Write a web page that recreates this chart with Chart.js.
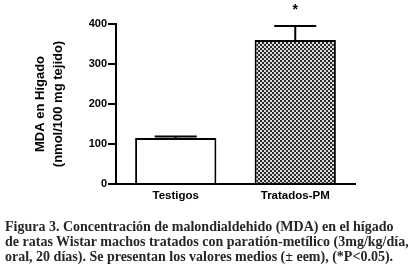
<!DOCTYPE html>
<html>
<head>
<meta charset="utf-8">
<script src="https://cdn.jsdelivr.net/npm/chart.js@4.4.0/dist/chart.umd.min.js"></script>
<style>
  html, body { margin: 0; padding: 0; background: #fff; }
  #wrap { position: relative; width: 408px; height: 270px; }
  #caption {
    position: absolute; left: 5px; top: 219px; width: 403px;
    font-family: "Liberation Serif", serif; font-weight: bold; font-size: 14px;
    line-height: 15px; color: #262626; white-space: nowrap;
  }
</style>
</head>
<body>
<div id="wrap">
  <canvas id="grafico" width="408" height="270"></canvas>
  <div id="caption">Figura 3. Concentración de malondialdehido (MDA) en el hígado<br>de ratas Wistar machos tratados con paratión-metílico (3mg/kg/día,<br>oral, 20 días). Se presentan los valores medios (± eem), (*P&lt;0.05).</div>
</div>
<script>
const grupos = ['Testigos', 'Tratados-PM'];
const medias = [115, 360];
const errores = [4, 35];
const marcas = ['', '*'];
const ticksY = [0, 100, 200, 300, 400];

// relleno cuadriculado para la barra de tratados
function cuadricula() {
  const c = document.createElement('canvas');
  c.width = 4; c.height = 4;
  const g = c.getContext('2d');
  g.fillStyle = '#dcdcdc'; g.fillRect(0, 0, 4, 4);
  g.fillStyle = '#2a2a2a';
  g.fillRect(0, 0, 2, 2); g.fillRect(2, 2, 2, 2);
  return g.createPattern(c, 'repeat');
}

const barrasError = {
  id: 'barrasError',
  afterDatasetsDraw(chart) {
    const ctx = chart.ctx;
    const meta = chart.getDatasetMeta(0);
    const y = chart.scales.y;
    ctx.save();
    ctx.strokeStyle = '#000';
    ctx.lineWidth = 2;
    meta.data.forEach((bar, i) => {
      const top = y.getPixelForValue(medias[i] + errores[i]);
      const base = y.getPixelForValue(medias[i]);
      ctx.beginPath();
      ctx.moveTo(bar.x, base);
      ctx.lineTo(bar.x, top);
      ctx.moveTo(bar.x - 21, top);
      ctx.lineTo(bar.x + 21, top);
      ctx.stroke();
      if (marcas[i]) {
        ctx.fillStyle = '#000';
        ctx.font = 'bold 14px "Liberation Sans"';
        ctx.textAlign = 'center';
        ctx.textBaseline = 'middle';
        ctx.fillText(marcas[i], bar.x, top - 16);
      }
    });
    ctx.restore();
  }
};

const ctx = document.getElementById('grafico').getContext('2d');
new Chart(ctx, {
  type: 'bar',
  data: {
    labels: grupos,
    datasets: [{
      data: medias,
      backgroundColor: ['#ffffff', cuadricula()],
      borderColor: '#000',
      borderWidth: 2,
      borderSkipped: 'bottom',
      barPercentage: 0.68,
      categoryPercentage: 1
    }]
  },
  options: {
    responsive: false,
    animation: false,
    layout: { padding: { top: 24, right: 53, bottom: 0, left: 0 } },
    plugins: {
      legend: { display: false },
      tooltip: { enabled: false }
    },
    scales: {
      x: {
        grid: { display: false, tickLength: 0 },
        border: { color: '#000', width: 2 },
        ticks: { color: '#000', padding: 5, font: { family: 'Liberation Sans', size: 11.5, weight: 'bold' } },
        afterFit: s => { s.height = 86; }
      },
      y: {
        min: 0,
        max: 400,
        afterBuildTicks: s => { s.ticks = ticksY.map(v => ({ value: v })); },
        grid: { drawOnChartArea: false, color: '#000', lineWidth: 2, tickLength: 8 },
        border: { color: '#000', width: 2 },
        ticks: { color: '#000', padding: 1, font: { family: 'Liberation Sans', size: 11, weight: 'bold' } },
        title: {
          display: true,
          text: ['MDA en Hígado', '(nmol/100 mg tejido)'],
          color: '#000',
          font: { family: 'Liberation Sans', size: 13, weight: 'bold', lineHeight: 1.385 },
          padding: { top: 31, bottom: 0 }
        },
        afterFit: s => { s.width = 116; }
      }
    }
  },
  plugins: [barrasError]
});
</script>
</body>
</html>
